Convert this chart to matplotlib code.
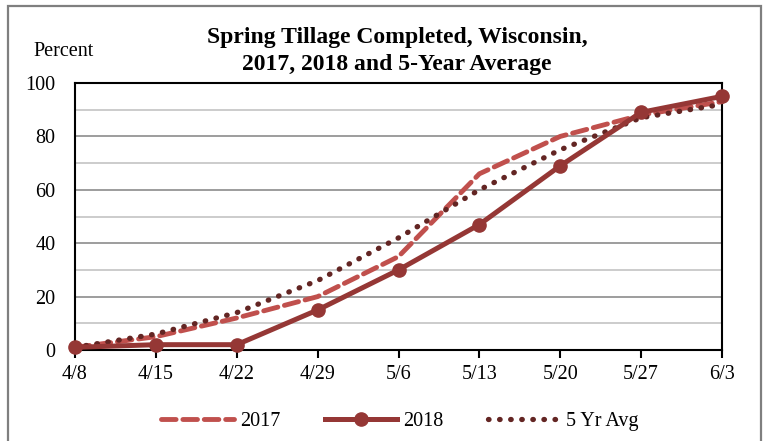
import matplotlib.pyplot as plt
from matplotlib.patches import Rectangle

plt.rcParams['font.family'] = ['Liberation Serif', 'DejaVu Serif']

weeks = ['4/8', '4/15', '4/22', '4/29', '5/6', '5/13', '5/20', '5/27', '6/3']
y2017 = [1, 5, 12, 20, 35, 66, 80, 88, 93]
y2018 = [1, 2, 2, 15, 30, 47, 69, 89, 95]
avg5 = [1, 6, 14, 26, 42, 60, 75, 87, 92]

fig = plt.figure(figsize=(7.66, 4.41), dpi=100)
ax = fig.add_axes([0.0979, 0.2063, 0.8447, 0.6055])

# outer chart frame
fig.patches.append(Rectangle((8 / 766, -0.1), 753 / 766, 1.1 - 6 / 441,
                             transform=fig.transFigure, fill=False,
                             edgecolor='#7f7f7f', linewidth=1.6))

x = list(range(len(weeks)))

# gridlines: minor light, major darker
for v in range(10, 100, 10):
    c = '#8c8c8c' if v % 20 == 0 else '#c4c4c4'
    ax.axhline(v, color=c, linewidth=1.2, zorder=0)

ax.plot(x, y2017, color='#C0504D', linewidth=3.5, dashes=(3, 1.4),
        dash_capstyle='round', label='2017', zorder=3)
ax.plot(x, y2018, color='#953735', linewidth=3.6, marker='o', markersize=9.5,
        label='2018', zorder=4)
ax.plot(x, avg5, color='#632523', linewidth=3.8, linestyle=(0, (0.1, 2.0)),
        dash_capstyle='round', label='5 Yr Avg', zorder=3)

ax.set_xlim(0, len(weeks) - 1)
ax.set_ylim(0, 100)
ax.set_xticks(x)
ax.set_xticklabels(weeks)
ax.set_yticks(range(0, 101, 20))
ax.tick_params(axis='x', length=6, width=1.5, labelsize=14.5, pad=5)
ax.tick_params(axis='y', length=0, labelsize=14.5, pad=14)
for s in ax.spines.values():
    s.set_linewidth(1.5)
    s.set_color('black')
for ln in ax.lines:
    ln.set_clip_on(False)

fig.text(397 / 766, 1 - 51 / 441,
         'Spring Tillage Completed, Wisconsin,\n2017, 2018 and 5-Year Average',
         ha='center', va='center', fontsize=17, fontweight='bold', linespacing=1.4)
fig.text(33 / 766, 1 - 52 / 441, 'Percent', ha='left', va='center', fontsize=14.5)

fig.legend(loc='center', bbox_to_anchor=(400 / 766, 1 - 421 / 441), ncol=3,
           frameon=False, fontsize=14.5, handlelength=3.6, columnspacing=2.2,
           handletextpad=0.3)

fig.savefig('out.png', dpi=100)
